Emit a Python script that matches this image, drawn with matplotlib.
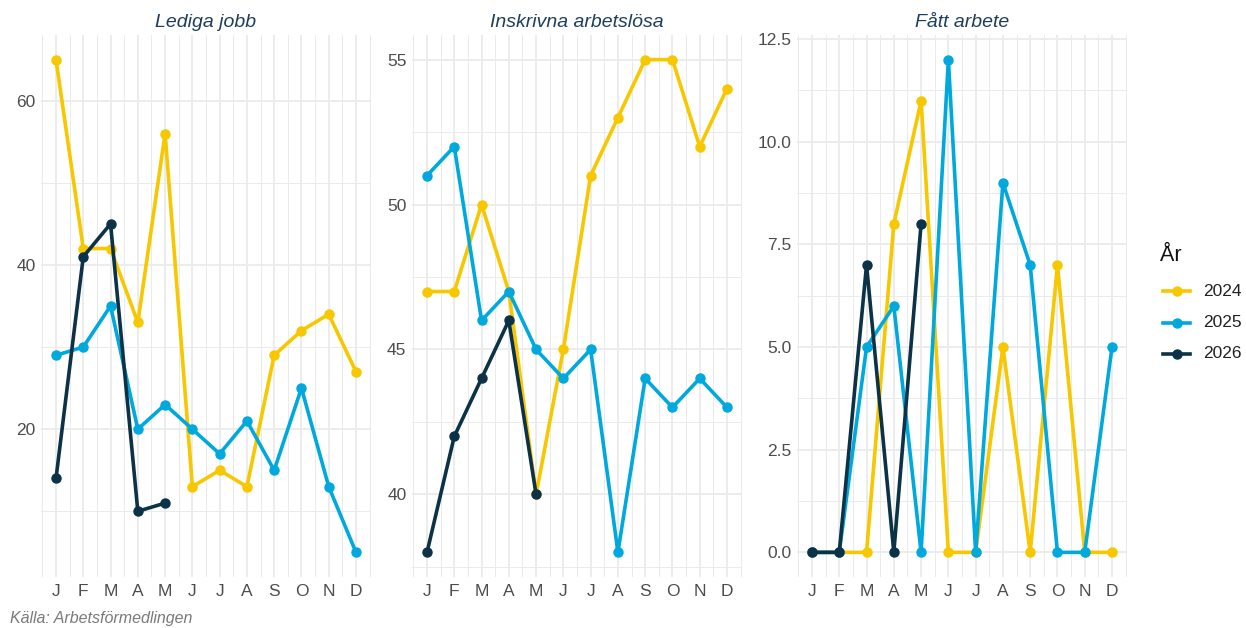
import numpy as np
import matplotlib
matplotlib.use('Agg')
import matplotlib.pyplot as plt
from matplotlib.lines import Line2D
from matplotlib.ticker import FixedLocator

YELLOW = '#F7C700'
BLUE = '#00A9DD'
DARK = '#0B3247'
GRID = '#EBEBEB'
TXT = '#4D4D4D'
TITLE = '#1D3E5C'

plt.rcParams.update({
    'font.family': ['Liberation Sans', 'DejaVu Sans'],
    'figure.facecolor': 'white',
})

# ---------------------------- data ------------------------------------------
months = ['J', 'F', 'M', 'A', 'M', 'J', 'J', 'A', 'S', 'O', 'N', 'D']
years = ['2024', '2025', '2026']
colors = [YELLOW, BLUE, DARK]
panel_titles = ['Lediga jobb', 'Inskrivna arbetslösa', 'Fått arbete']

lediga_2024 = [65, 42, 42, 33, 56, 13, 15, 13, 29, 32, 34, 27]
lediga_2025 = [29, 30, 35, 20, 23, 20, 17, 21, 15, 25, 13, 5]
lediga_2026 = [14, 41, 45, 10, 11]

inskrivna_2024 = [47, 47, 50, 47, 40, 45, 51, 53, 55, 55, 52, 54]
inskrivna_2025 = [51, 52, 46, 47, 45, 44, 45, 38, 44, 43, 44, 43]
inskrivna_2026 = [38, 42, 44, 46, 40]

fatt_2024 = [0, 0, 0, 8, 11, 0, 0, 5, 0, 7, 0, 0]
fatt_2025 = [0, 0, 5, 6, 0, 12, 0, 9, 7, 0, 0, 5]
fatt_2026 = [0, 0, 7, 0, 8]

panels = [
    (lediga_2024, lediga_2025, lediga_2026),
    (inskrivna_2024, inskrivna_2025, inskrivna_2026),
    (fatt_2024, fatt_2025, fatt_2026),
]
y_major = [[20, 40, 60], [40, 45, 50, 55], [0.0, 2.5, 5.0, 7.5, 10.0, 12.5]]
y_minor = [[10, 30, 50], [37.5, 42.5, 47.5, 52.5], [1.25, 3.75, 6.25, 8.75, 11.25]]
y_fmt = ['{:.0f}', '{:.0f}', '{:.1f}']

# ---------------------------- layout ----------------------------------------
W, H = 1246, 628
fig = plt.figure(figsize=(W / 100, H / 100), dpi=100)
lefts = [41, 412, 797]
pw = 330
top, bottom = 35, 577


def px_axes(x0, w):
    return fig.add_axes([x0 / W, 1 - bottom / H, w / W, (bottom - top) / H])


for i, series in enumerate(panels):
    ax = px_axes(lefts[i], pw)
    for vals, col in zip(series, colors):
        x = np.arange(1, len(vals) + 1)
        ax.plot(x, vals, color=col, lw=2.6, marker='o', ms=6.5, zorder=3,
                solid_capstyle='butt')

    allv = np.concatenate([np.asarray(s, float) for s in series])
    lo, hi = allv.min(), allv.max()
    pad = (hi - lo) * 0.05
    ax.set_ylim(lo - pad, hi + pad)
    ax.set_xlim(1 - 11 * 0.05, 12 + 11 * 0.05)

    ax.set_xticks(np.arange(1, 13))
    ax.set_xticklabels(months)
    ax.xaxis.set_minor_locator(FixedLocator(np.arange(0.5, 13, 1)))
    ax.set_yticks(y_major[i])
    ax.set_yticklabels([y_fmt[i].format(v) for v in y_major[i]])
    ax.yaxis.set_minor_locator(FixedLocator(y_minor[i]))

    ax.grid(which='major', color=GRID, lw=1.3, zorder=0)
    ax.grid(which='minor', color=GRID, lw=0.7, zorder=0)
    ax.set_axisbelow(True)
    for s in ax.spines.values():
        s.set_visible(False)
    ax.tick_params(which='both', length=0, labelsize=12.5, labelcolor=TXT)
    ax.tick_params(axis='x', pad=5)
    ax.tick_params(axis='y', pad=4)
    ax.set_title(panel_titles[i], fontsize=14, style='italic', color=TITLE, pad=6)

# ---------------------------- legend (drawn by hand) -------------------------
fig.text(1160 / W, 1 - 255 / H, 'År', fontsize=15.5, color='#111111',
         ha='left', va='center')
for k, (yr, col) in enumerate(zip(years, colors)):
    yk = 1 - (291 + k * 31.5) / H
    fig.add_artist(Line2D([1163 / W, 1190 / W], [yk, yk], color=col, lw=2.6,
                          transform=fig.transFigure))
    fig.add_artist(Line2D([1176.5 / W], [yk], color=col, marker='o', ms=6.5,
                          transform=fig.transFigure))
    fig.text(1203 / W, yk, yr, fontsize=12.5, color='#222222',
             ha='left', va='center')

fig.text(10 / W, 1 - 619 / H, 'Källa: Arbetsförmedlingen', fontsize=11.5,
         style='italic', color='#7A7A7A', va='center', ha='left')

fig.savefig('out.png', dpi=100)
